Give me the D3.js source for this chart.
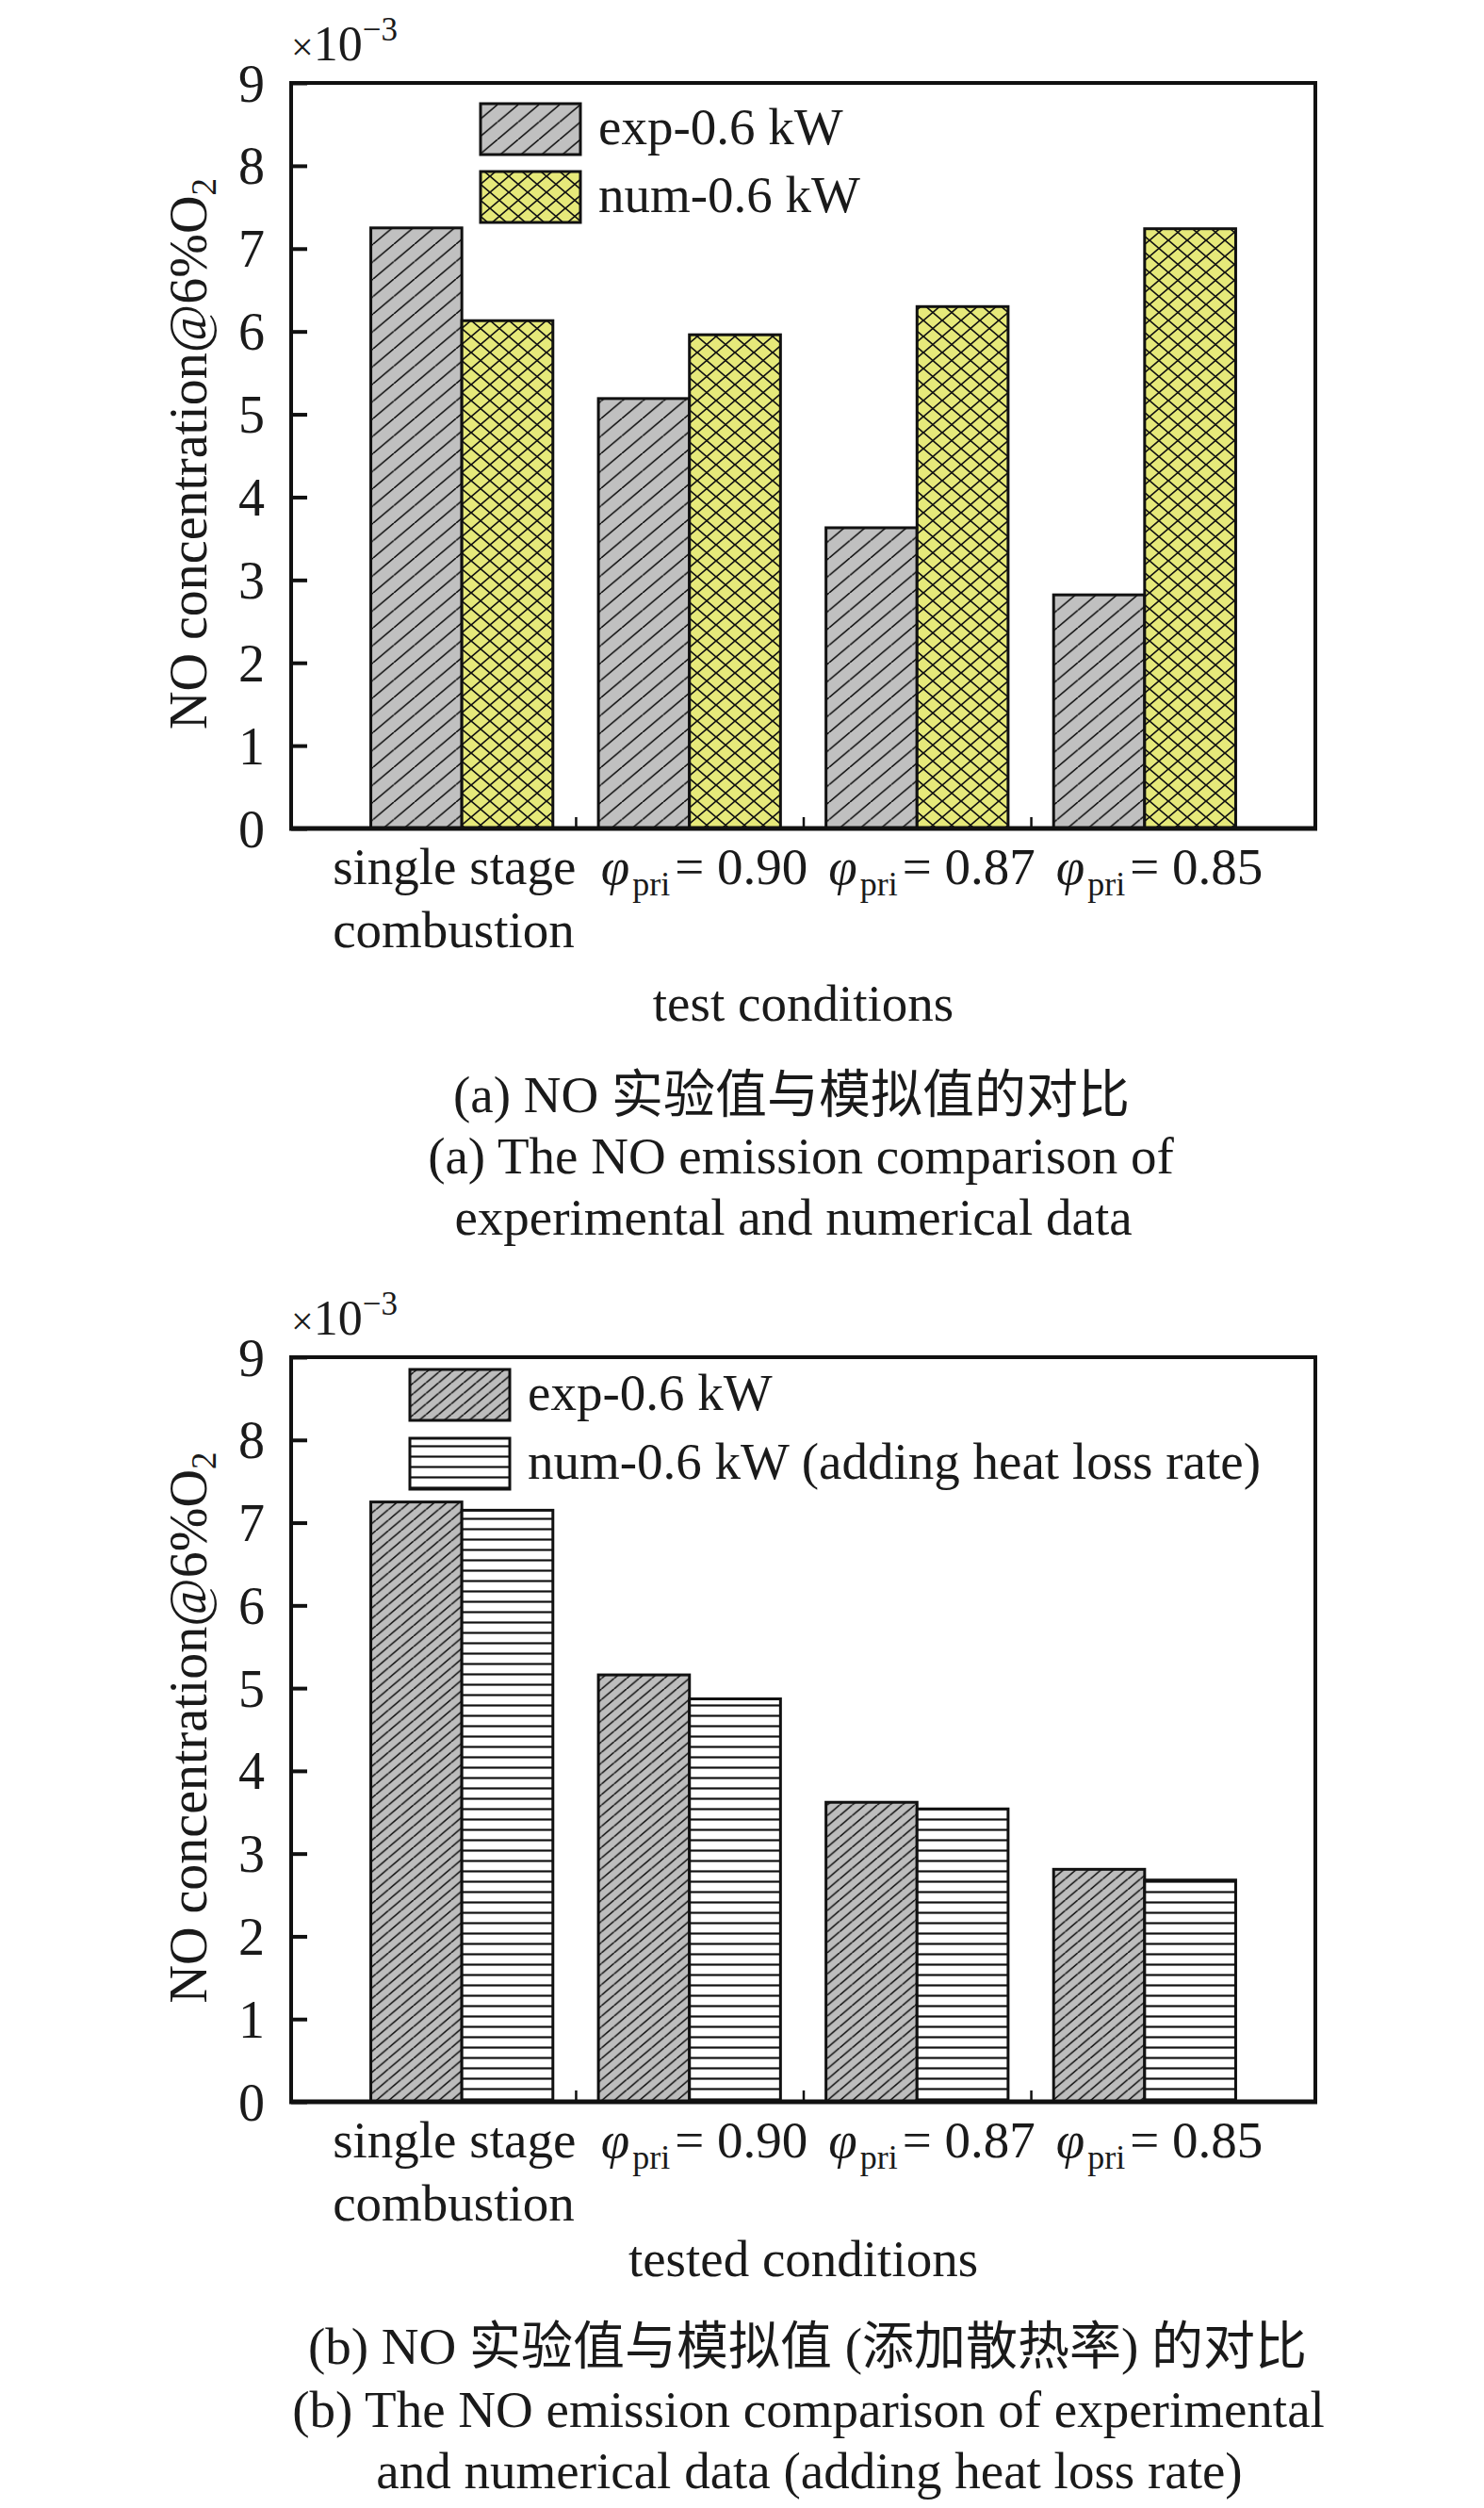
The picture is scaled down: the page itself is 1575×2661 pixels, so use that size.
<!DOCTYPE html>
<html>
<head>
<meta charset="utf-8">
<script src="https://cdn.jsdelivr.net/npm/d3@7"></script>
<style>
  html, body { margin: 0; padding: 0; background: #ffffff; }
  svg { display: block; }
</style>
</head>
<body>
<div id="chart"></div>
<script>
// ---------- data ----------
const categories = ["single stage combustion", "phi=0.90", "phi=0.87", "phi=0.85"];
const phiValues = [null, "0.90", "0.87", "0.85"];
const firstLabelLines = ["single stage", "combustion"];
const yTickValues = [0, 1, 2, 3, 4, 5, 6, 7, 8, 9];

// panel (a)
const expA = [7.25, 5.19, 3.63, 2.82];
const numA = [6.13, 5.96, 6.30, 7.24];
// panel (b)
const expB = [7.25, 5.16, 3.62, 2.81];
const numB = [7.15, 4.87, 3.54, 2.68];

const legendA = ["exp-0.6 kW", "num-0.6 kW"];
const legendB = ["exp-0.6 kW", "num-0.6 kW (adding heat loss rate)"];
const xTitleA = "test conditions";
const xTitleB = "tested conditions";
const captionA = ["(a) NO 实验值与模拟值的对比", "(a) The NO emission comparison of", "experimental and numerical data"];
const captionB = ["(b) NO 实验值与模拟值 (添加散热率) 的对比", "(b) The NO emission comparison of experimental", "and numerical data (adding heat loss rate)"];

// ---------- setup ----------
const W = 1575, H = 2661;
const FONT = "'Liberation Serif', 'Times New Roman', 'Noto Sans CJK SC', serif";
const INK = "#1a1a1a";

const svg = d3.select("#chart").append("svg")
  .attr("width", W).attr("height", H)
  .attr("viewBox", `0 0 ${W} ${H}`);
svg.append("rect").attr("width", W).attr("height", H).attr("fill", "#ffffff");

const defs = svg.append("defs");

function slashPattern(id, w, h, bg, sw) {
  const p = defs.append("pattern").attr("id", id)
    .attr("patternUnits", "userSpaceOnUse").attr("width", w).attr("height", h);
  p.append("rect").attr("width", w).attr("height", h).attr("fill", bg);
  p.append("path")
    .attr("d", `M0,${h} L${w},0 M${-w},${h} L0,0 M${w},${h} L${2*w},0`)
    .attr("stroke", "#111").attr("stroke-width", sw).attr("fill", "none");
}
function crossPattern(id, w, h, bg, sw) {
  const p = defs.append("pattern").attr("id", id)
    .attr("patternUnits", "userSpaceOnUse").attr("width", w).attr("height", h);
  p.append("rect").attr("width", w).attr("height", h).attr("fill", bg);
  p.append("path")
    .attr("d", `M0,${h} L${w},0 M${-w},${h} L0,0 M${w},${h} L${2*w},0 M0,0 L${w},${h} M${-w},0 L0,${h} M${w},0 L${2*w},${h}`)
    .attr("stroke", "#111").attr("stroke-width", sw).attr("fill", "none");
}
function hlinePattern(id, h, sw) {
  const p = defs.append("pattern").attr("id", id)
    .attr("patternUnits", "userSpaceOnUse").attr("width", 10).attr("height", h);
  p.append("rect").attr("width", 10).attr("height", h).attr("fill", "#ffffff");
  p.append("line").attr("x1", -1).attr("x2", 11).attr("y1", h / 2).attr("y2", h / 2)
    .attr("stroke", "#111").attr("stroke-width", sw);
}
slashPattern("hatchA", 22, 18.5, "#c0c0c0", 1.6);
slashPattern("hatchB", 13.3, 11.2, "#bdbdbd", 1.6);
crossPattern("crossA", 20, 17, "#e6e97a", 1.7);
hlinePattern("hlinesB", 11, 2.2);

const X0 = 309, X1 = 1396;

function drawPanel(cfg) {
  const g = svg.append("g");
  const x = d3.scaleLinear().domain([0.25, 4.75]).range([X0, X1]);
  const y = d3.scaleLinear().domain([0, 9]).range([cfg.bottom, cfg.top]);
  const step = x(2) - x(1);
  const bw = step * 0.4;

  // bars
  const data = categories.map((c, i) => ({ i, exp: cfg.exp[i], num: cfg.num[i] }));
  g.selectAll("rect.exp").data(data).join("rect").attr("class", "exp")
    .attr("x", d => x(d.i + 1) - bw).attr("width", bw)
    .attr("y", d => y(d.exp)).attr("height", d => y(0) - y(d.exp))
    .attr("fill", `url(#${cfg.expPat})`).attr("stroke", "#111").attr("stroke-width", 3);
  g.selectAll("rect.num").data(data).join("rect").attr("class", "num")
    .attr("x", d => x(d.i + 1)).attr("width", bw)
    .attr("y", d => y(d.num)).attr("height", d => y(0) - y(d.num))
    .attr("fill", `url(#${cfg.numPat})`).attr("stroke", "#111").attr("stroke-width", 3);

  // y axis
  const yAxis = d3.axisLeft(y).tickValues(yTickValues).tickFormat(d3.format("d"))
    .tickSizeInner(-17).tickSizeOuter(0).tickPadding(28);
  const ya = g.append("g").attr("transform", `translate(${X0},0)`).call(yAxis);
  ya.select(".domain").remove();
  ya.selectAll(".tick line").attr("stroke", "#111").attr("stroke-width", 4);
  ya.selectAll(".tick text").attr("font-family", FONT).attr("font-size", 56)
    .attr("fill", INK).attr("dy", "0.34em");

  // x axis (category separator ticks)
  const xAxis = d3.axisBottom(x).tickValues([1.5, 2.5, 3.5]).tickFormat("")
    .tickSizeInner(-12).tickSizeOuter(0);
  const xa = g.append("g").attr("transform", `translate(0,${cfg.bottom})`).call(xAxis);
  xa.select(".domain").remove();
  xa.selectAll(".tick line").attr("stroke", "#111").attr("stroke-width", 2.5);

  // frame
  g.append("rect").attr("x", X0).attr("y", cfg.top)
    .attr("width", X1 - X0).attr("height", cfg.bottom - cfg.top)
    .attr("fill", "none").attr("stroke", "#111").attr("stroke-width", 4);
  g.append("line").attr("x1", X0 - 2).attr("x2", X1 + 2)
    .attr("y1", cfg.bottom).attr("y2", cfg.bottom)
    .attr("stroke", "#111").attr("stroke-width", 5);

  // x category labels
  const lb = cfg.bottom + 59;
  categories.forEach((c, i) => {
    const cx = x(i + 1);
    if (i === 0) {
      firstLabelLines.forEach((line, k) => {
        g.append("text").attr("x", cx - 137).attr("y", lb + k * 67)
          .attr("font-family", FONT).attr("font-size", 55).attr("fill", INK)
          .text(line);
      });
    } else {
      const t = g.append("text").attr("x", cx - 94).attr("y", lb)
        .attr("font-family", FONT).attr("font-size", 55).attr("fill", INK);
      t.append("tspan").attr("font-style", "italic").text("φ");
      t.append("tspan").attr("font-size", 36).attr("dx", 3).attr("dy", 12).text("pri");
      t.append("tspan").attr("dx", 5).attr("dy", -12).text("= " + phiValues[i]);
    }
  });

  // x title
  g.append("text").attr("x", (X0 + X1) / 2).attr("y", cfg.xTitleY)
    .attr("text-anchor", "middle").attr("font-family", FONT).attr("font-size", 55)
    .attr("fill", INK).text(cfg.xTitle);

  // y title
  const yt = g.append("text")
    .attr("transform", `translate(219,${(cfg.top + cfg.bottom) / 2 - 2}) rotate(-90)`)
    .attr("text-anchor", "middle").attr("font-family", FONT).attr("font-size", 56)
    .attr("fill", INK);
  yt.append("tspan").text("NO concentration@6%O");
  yt.append("tspan").attr("font-size", 37).attr("dy", 10).text("2");

  // multiplier
  const m = g.append("text").attr("x", 309).attr("y", cfg.top - 24)
    .attr("font-family", FONT).attr("fill", INK);
  m.append("tspan").attr("font-size", 42).text("×");
  m.append("tspan").attr("font-size", 52).text("10");
  m.append("tspan").attr("font-size", 35).attr("dy", -21).text("−3");

  // legend
  const pats = [cfg.expPat, cfg.numPat];
  cfg.legend.forEach((lab, k) => {
    const ly = cfg.legY[k];
    g.append("rect").attr("x", cfg.legX).attr("y", ly).attr("width", 106).attr("height", 54)
      .attr("fill", `url(#${pats[k]})`).attr("stroke", "#111").attr("stroke-width", 3);
    g.append("text").attr("x", cfg.legX + 125).attr("y", ly + 43)
      .attr("font-family", FONT).attr("font-size", 55).attr("fill", INK).text(lab);
  });

  // captions
  cfg.caption.forEach((line, k) => {
    g.append("text").attr("x", cfg.capX[k]).attr("y", cfg.capY[k])
      .attr("text-anchor", "middle").attr("font-family", FONT).attr("font-size", 55)
      .attr("fill", INK).text(line);
  });
}

drawPanel({
  top: 88, bottom: 879, exp: expA, num: numA,
  expPat: "hatchA", numPat: "crossA",
  legend: legendA, legX: 510, legY: [110, 182],
  xTitle: xTitleA, xTitleY: 1083,
  caption: captionA, capX: [840, 850, 842], capY: [1180, 1245, 1310]
});

drawPanel({
  top: 1440, bottom: 2230, exp: expB, num: numB,
  expPat: "hatchB", numPat: "hlinesB",
  legend: legendB, legX: 435, legY: [1453, 1526],
  xTitle: xTitleB, xTitleY: 2415,
  caption: captionB, capX: [857, 858, 859], capY: [2508, 2575, 2640]
});
</script>
</body>
</html>
